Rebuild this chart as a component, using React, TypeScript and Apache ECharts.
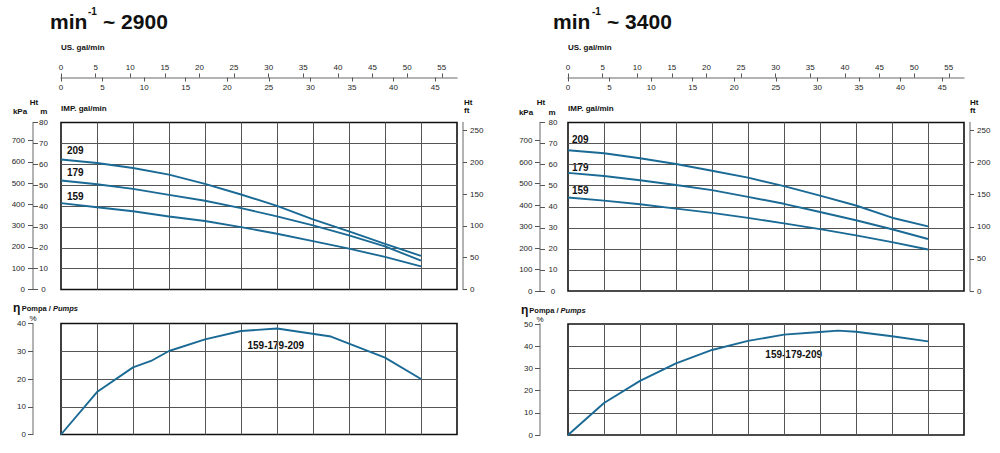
import React, { useEffect, useRef } from "react";
import * as echarts from "echarts";

// ---- data ----
const FLOW_US = [0, 5.2, 10.4, 15.6, 20.8, 26, 31.2, 36.4, 41.6, 46.8, 52];

const HEAD_2900_209 = [62.3, 60.6, 58.2, 55.0, 50.6, 45.5, 40.1, 33.6, 27.8, 21.9, 16.1];
const HEAD_2900_179 = [52.2, 50.4, 48.2, 45.3, 42.5, 39.0, 35.0, 30.7, 25.9, 20.7, 13.8];
const HEAD_2900_159 = [41.4, 39.4, 37.5, 35.0, 32.8, 29.9, 26.7, 23.2, 19.6, 15.6, 11.1];

const HEAD_3400_209 = [66.8, 65.4, 63.0, 60.3, 57.1, 53.8, 49.8, 45.3, 40.6, 34.8, 30.7];
const HEAD_3400_179 = [56.1, 54.6, 52.6, 50.3, 47.9, 44.7, 41.4, 37.5, 33.6, 29.3, 24.7];
const HEAD_3400_159 = [44.4, 42.9, 41.2, 39.1, 37.1, 34.7, 32.1, 29.4, 26.4, 23.2, 19.7];

const EFF_X_2900 = [0, 5.2, 10.4, 13, 15.6, 20.8, 26, 31.2, 39, 46.8, 52];
const EFF_2900 = [0, 15.3, 24.2, 26.5, 30.1, 34.3, 37.3, 38.2, 35.3, 27.7, 20];
const EFF_X_3400 = [0, 5.2, 10.4, 15.6, 20.8, 26, 31.2, 36.4, 39, 41.6, 46.8, 52];
const EFF_3400 = [0, 14.4, 24.4, 32.3, 38.3, 42.4, 45.2, 46.4, 47, 46.5, 44.5, 42.2];

const MODELS = ["209", "179", "159"];
const US_TICKS = [0, 5, 10, 15, 20, 25, 30, 35, 40, 45, 50, 55];
const IMP_TICKS = [0, 5, 10, 15, 20, 25, 30, 35, 40, 45];
const KPA_TICKS = [0, 100, 200, 300, 400, 500, 600, 700];
const FT_TICKS = [0, 50, 100, 150, 200, 250];

// unit conversions / axis extents
const GRID_STEP = 5.2; // US gal/min per grid division
const FLOW_MAX_US = 57.2; // 11 divisions
const US_PER_IMP = 1.20095;
const KPA_PER_M = 9.81;
const M_PER_FT = 0.3048;
const HEAD_MAX = 80;

// ---- styles ----
const FONT = '"Liberation Sans", Arial, Helvetica, sans-serif';
const CURVE = "#1a6a95";
const GRID_LINE = "#555555";
const AXIS_GRAY = "#9a9a9a";
const TICK = "#555";
const TXT = "#262626";

type Panel = {
  left: number;
  headTop: number;
  headHeight: number;
  effTop: number;
  effHeight: number;
  effMax: number;
  mMargin: number;
  kpaMargin: number;
  ftMargin: number;
  effMargin: number;
  heads: number[][];
  effX: number[];
  eff: number[];
};

const PANELS: Panel[] = [
  {
    left: 61, headTop: 122.5, headHeight: 167, effTop: 323.5, effHeight: 111, effMax: 40,
    mMargin: 10.5, kpaMargin: 8, ftMargin: 7, effMargin: 7,
    heads: [HEAD_2900_209, HEAD_2900_179, HEAD_2900_159], effX: EFF_X_2900, eff: EFF_2900,
  },
  {
    left: 568, headTop: 122.5, headHeight: 168.5, effTop: 324, effHeight: 111, effMax: 50,
    mMargin: 13, kpaMargin: 7.5, ftMargin: 7, effMargin: 7,
    heads: [HEAD_3400_209, HEAD_3400_179, HEAD_3400_159], effX: EFF_X_3400, eff: EFF_3400,
  },
];

const lbl = (extra: any = {}) => ({ fontSize: 8, color: TXT, fontFamily: FONT, ...extra });
const grayLine = { show: true, onZero: false, lineStyle: { color: AXIS_GRAY, width: 1.5 } };
const noLine = { show: false, onZero: false };

function buildOption() {
  const grid: any[] = [];
  const xAxis: any[] = [];
  const yAxis: any[] = [];
  const series: any[] = [];

  const split = { show: true, showMinLine: false, showMaxLine: false, lineStyle: { color: GRID_LINE, width: 1 } };
  const mainX = (g: number) => ({
    type: "value", gridIndex: g, min: 0, max: FLOW_MAX_US, interval: GRID_STEP, position: "bottom",
    axisLine: noLine, axisTick: { show: false }, axisLabel: { show: false }, splitLine: split,
  });

  PANELS.forEach((p) => {
    const gHead = grid.length;
    grid.push({ left: p.left, top: p.headTop, width: 396, height: p.headHeight, show: true, borderColor: "#111", borderWidth: 1.6, backgroundColor: "transparent" });
    const gEff = grid.length;
    grid.push({ left: p.left, top: p.effTop, width: 396, height: p.effHeight, show: true, borderColor: "#111", borderWidth: 1.6, backgroundColor: "transparent" });

    const xHead = xAxis.length;
    xAxis.push(mainX(gHead));
    xAxis.push({
      type: "value", gridIndex: gHead, min: 0, max: FLOW_MAX_US, position: "top", offset: 45,
      axisLine: grayLine,
      axisTick: { show: true, customValues: US_TICKS, length: 4, lineStyle: { color: TICK } },
      axisLabel: lbl({ customValues: US_TICKS, margin: 6 }), splitLine: { show: false },
    });
    xAxis.push({
      type: "value", gridIndex: gHead, min: 0, max: FLOW_MAX_US / US_PER_IMP, position: "top", offset: 45,
      axisLine: noLine,
      axisTick: { show: true, inside: true, customValues: IMP_TICKS, length: 4, lineStyle: { color: TICK } },
      axisLabel: lbl({ customValues: IMP_TICKS, inside: true, margin: 6 }), splitLine: { show: false },
    });
    const xEff = xAxis.length;
    xAxis.push(mainX(gEff));

    const yM = yAxis.length;
    yAxis.push({
      type: "value", gridIndex: gHead, position: "left", offset: 28, min: 0, max: HEAD_MAX, interval: 10,
      axisLine: grayLine,
      axisTick: { show: true, inside: true, length: 5, lineStyle: { color: TICK } },
      axisLabel: lbl({ inside: true, align: "center", margin: p.mMargin }), splitLine: split,
    });
    yAxis.push({
      type: "value", gridIndex: gHead, position: "left", offset: 28, min: 0, max: HEAD_MAX * KPA_PER_M,
      axisLine: noLine,
      axisTick: { show: true, customValues: KPA_TICKS, length: 5, lineStyle: { color: TICK } },
      axisLabel: lbl({ customValues: KPA_TICKS, margin: p.kpaMargin }), splitLine: { show: false },
    });
    yAxis.push({
      type: "value", gridIndex: gHead, position: "right", offset: 6, min: 0, max: HEAD_MAX / M_PER_FT,
      axisLine: grayLine,
      axisTick: { show: true, customValues: FT_TICKS, length: 4, lineStyle: { color: TICK } },
      axisLabel: lbl({ customValues: FT_TICKS, margin: p.ftMargin }), splitLine: { show: false },
    });
    const yEff = yAxis.length;
    yAxis.push({
      type: "value", gridIndex: gEff, position: "left", offset: 28, min: 0, max: p.effMax, interval: 10,
      axisLine: grayLine,
      axisTick: { show: true, length: 5, lineStyle: { color: TICK } },
      axisLabel: lbl({ margin: p.effMargin }), splitLine: split,
    });

    p.heads.forEach((h, i) => {
      series.push({
        type: "line", name: MODELS[i], xAxisIndex: xHead, yAxisIndex: yM, symbol: "none", silent: true,
        lineStyle: { color: CURVE, width: 1.9 }, data: FLOW_US.map((x, k) => [x, h[k]]),
      });
    });
    series.push({
      type: "line", name: "eff", xAxisIndex: xEff, yAxisIndex: yEff, symbol: "none", silent: true,
      lineStyle: { color: CURVE, width: 1.9 }, data: p.effX.map((x, k) => [x, p.eff[k]]),
    });
  });

  const T = (text: string, x: number, y: number, size: number, extra: any = {}) => ({
    type: "text", x, y, silent: true,
    style: { text, fontSize: size, fontWeight: "bold", fontFamily: FONT, fill: "#111", verticalAlign: "middle", align: "left", ...extra },
  });
  const richPumps = {
    a: { fontSize: 7.5, fontWeight: "bold", fontFamily: FONT, fill: "#111" },
    b: { fontSize: 7.5, fontWeight: "bold", fontStyle: "italic", fontFamily: FONT, fill: "#111" },
  };

  const graphic: any[] = [
    T("min", 50, 21, 21), T("-1", 88, 11, 10), T("~ 2900", 103, 21, 21),
    T("min", 553, 21, 21), T("-1", 592, 11, 10), T("~ 3400", 607, 21, 21),
    T("US. gal/min", 61, 47, 8), T("US. gal/min", 568, 47, 8),
    T("IMP. gal/min", 61, 108, 8), T("IMP. gal/min", 568, 108, 8),
    T("Ht", 34, 102.5, 8, { align: "center" }), T("kPa", 20, 111.5, 8, { align: "center" }), T("m", 43.7, 111.5, 8, { align: "center" }),
    T("Ht", 464, 102.5, 8), T("ft", 464, 110, 8),
    T("Ht", 541, 102.5, 8, { align: "center" }), T("kPa", 526, 112, 8, { align: "center" }), T("m", 552, 112, 8, { align: "center" }),
    T("Ht", 970, 102.5, 8), T("ft", 970, 110, 8),
    T("209", 67, 150, 10), T("179", 67, 172.7, 10), T("159", 67, 196.7, 10),
    T("209", 572, 139.3, 10), T("179", 572, 167.3, 10), T("159", 572, 190, 10),
    T("159-179-209", 275.8, 345.7, 10, { align: "center" }), T("159-179-209", 793.7, 354.3, 10, { align: "center" }),
    T("η", 13, 308, 12), T("η", 521, 310, 12),
    T("{a|Pompa / }{b|Pumps}", 21.7, 308, 7.5, { rich: richPumps }),
    T("{a|Pompa / }{b|Pumps}", 529.3, 310, 7.5, { rich: richPumps }),
    T("%", 33, 318, 8, { align: "center", fontWeight: "normal" }), T("%", 540, 319, 8, { align: "center", fontWeight: "normal" }),
  ];

  return { animation: false, backgroundColor: "#fff", grid, xAxis, yAxis, series, graphic };
}

export default function App() {
  const ref = useRef<HTMLDivElement>(null);
  useEffect(() => {
    if (!ref.current) return;
    const chart = echarts.init(ref.current, undefined, { renderer: "svg" });
    chart.setOption(buildOption() as any);
    return () => chart.dispose();
  }, []);
  return <div ref={ref} style={{ position: "fixed", left: 0, top: 0, width: 1000, height: 453 }} />;
}
